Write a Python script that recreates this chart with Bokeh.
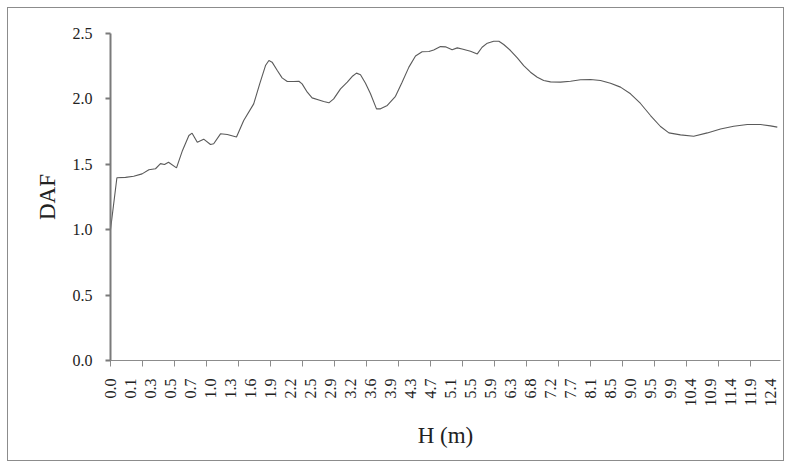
import math
from bokeh.plotting import figure
from bokeh.models import FixedTicker, Range1d, NumeralTickFormatter
from bokeh.embed import file_html
from bokeh.resources import INLINE

# Category axis: tick labels (H in metres) every 5 categories, tick marks every 8
h_labels = ["0.0", "0.1", "0.3", "0.5", "0.7", "1.0", "1.3", "1.6", "1.9", "2.2",
            "2.5", "2.9", "3.2", "3.6", "3.9", "4.3", "4.7", "5.1", "5.5", "5.9",
            "6.3", "6.8", "7.2", "7.7", "8.1", "8.5", "9.0", "9.5", "9.9", "10.4",
            "10.9", "11.4", "11.9", "12.4"]
label_every = 5
tick_every = 8
n_categories = 168

# Curve (category position, DAF)
pos = [0, 1.6, 3.75, 5.8, 7.9, 9.6, 11.25, 12.5, 13.5, 14.5, 16.5, 18.0, 19.6, 20.4,
       21.7, 23.3, 25.0, 25.8, 27.5, 29.2, 31.5, 33.3, 35.8, 37.3, 38.75, 39.6, 40.4,
       41.7, 42.9, 44.2, 45.8, 47.1, 47.9, 49.2, 50.4, 52.1, 53.3, 54.6, 55.8, 57.5,
       59.2, 60.4, 61.5, 62.5, 63.75, 65.0, 66.5, 67.5, 69.2, 71.25, 72.9, 74.6, 76.25,
       77.9, 79.6, 80.8, 82.5, 83.75, 85.4, 86.7, 87.9, 90.0, 91.7, 92.9, 94.2, 95.8,
       97.1, 98.3, 100.0, 101.7, 103.3, 105.0, 106.7, 108.3, 110.0, 112.5, 115.0,
       117.5, 120.0, 122.5, 125.0, 127.5, 130.0, 132.5, 135.0, 137.5, 139.6, 142.5,
       145.8, 149.2, 152.5, 155.8, 159.2, 162.5, 165.0, 166.7]
daf = [1.00, 1.397, 1.400, 1.409, 1.427, 1.458, 1.466, 1.505, 1.498, 1.516, 1.473, 1.606,
       1.720, 1.738, 1.669, 1.692, 1.651, 1.657, 1.733, 1.728, 1.708, 1.835, 1.962,
       2.115, 2.255, 2.294, 2.281, 2.217, 2.161, 2.133, 2.133, 2.135, 2.115, 2.051,
       2.008, 1.992, 1.980, 1.970, 2.000, 2.077, 2.128, 2.171, 2.197, 2.185, 2.120,
       2.039, 1.924, 1.924, 1.950, 2.020, 2.128, 2.243, 2.328, 2.360, 2.362, 2.374,
       2.400, 2.398, 2.376, 2.390, 2.382, 2.365, 2.344, 2.395, 2.426, 2.441, 2.441,
       2.416, 2.370, 2.314, 2.255, 2.204, 2.166, 2.141, 2.130, 2.128, 2.135, 2.146,
       2.148, 2.141, 2.120, 2.090, 2.039, 1.965, 1.873, 1.789, 1.740, 1.725, 1.715,
       1.740, 1.770, 1.791, 1.804, 1.804, 1.794, 1.784]

y_ticks = [0.0, 0.5, 1.0, 1.5, 2.0, 2.5]

FONT = "Liberation Serif"

p = figure(width=777, height=454,
           x_range=Range1d(0, n_categories - 0.5), y_range=Range1d(0, 2.5),
           output_backend="svg", toolbar_location=None,
           min_border_left=102, min_border_right=5, min_border_top=25,
           min_border_bottom=102)
p.margin = (7, 0, 0, 7)
p.styles = {"border": "1px solid #8c8c8c"}
p.outline_line_color = None
p.grid.visible = False
p.background_fill_color = "white"
p.border_fill_color = "white"

p.line(pos, daf, line_color="#5a5a5a", line_width=1.1)

# x axis
p.xaxis.ticker = FixedTicker(
    ticks=[i * label_every for i in range(len(h_labels))],
    minor_ticks=[j * tick_every for j in range(n_categories // tick_every)])
p.xaxis.major_label_overrides = {i * label_every: lab for i, lab in enumerate(h_labels)}
p.xaxis.major_tick_out = 0
p.xaxis.major_tick_in = 0
p.xaxis.minor_tick_out = 6
p.xaxis.minor_tick_in = 0
p.xaxis.minor_tick_line_color = "#8c8c8c"
p.xaxis.axis_line_color = "#8c8c8c"
p.xaxis.major_label_orientation = math.pi / 2
p.xaxis.major_label_standoff = 12
p.xaxis.axis_label = "H (m)"
p.xaxis.axis_label_standoff = 13

# y axis
p.yaxis.ticker = FixedTicker(ticks=y_ticks, minor_ticks=[])
p.yaxis.formatter = NumeralTickFormatter(format="0.0")
p.yaxis.major_tick_out = 5
p.yaxis.major_tick_in = 0
p.yaxis.major_tick_line_color = "#7a7a7a"
p.yaxis.major_tick_line_width = 2
p.yaxis.axis_line_color = "#7a7a7a"
p.yaxis.axis_line_width = 2
p.yaxis.major_label_standoff = 13
p.yaxis.axis_label = "DAF"
p.yaxis.axis_label_standoff = 10

for ax in (p.xaxis, p.yaxis):
    ax.major_label_text_font = FONT
    ax.major_label_text_font_size = "16px"
    ax.major_label_text_color = "#222222"
    ax.axis_label_text_font = FONT
    ax.axis_label_text_font_size = "23px"
    ax.axis_label_text_font_style = "normal"
    ax.axis_label_text_color = "#222222"

open("out.html", "w").write(file_html(p, INLINE))
